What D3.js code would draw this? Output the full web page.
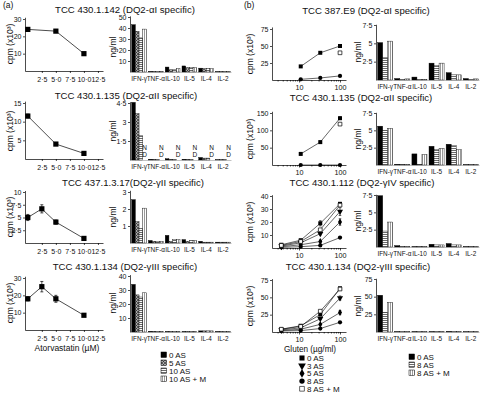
<!DOCTYPE html>
<html>
<head>
<meta charset="utf-8">
<script src="https://cdn.jsdelivr.net/npm/d3@7"></script>
<style>
  body { margin: 0; background: #fff; }
  text { font-family: "Liberation Sans", Arial, sans-serif; fill: #111; }
</style>
</head>
<body>
<svg id="fig" width="482" height="393"></svg>
<script>
// ---------------------------------- DATOS ----------------------------------
const cytokines = ["IFN-γ", "TNF-α", "IL-10", "IL-5", "IL-4", "IL-2"];
const groupsA = ["0 AS", "5 AS", "10 AS", "10 AS + M"];
const groupsB = ["0 AS", "8 AS", "8 AS + M"];
const seriesB = ["0 AS", "3 AS", "5 AS", "8 AS", "8 AS + M"];

// (a) proliferación vs atorvastatina (µM), cpm x10^3
const a1Dose = [0, 5, 10],      a1Cpm = [24, 23, 10],       a1Err = [0.8, 0.8, 0.5];
const a2Dose = [0, 5, 10],      a2Cpm = [11.5, 4, 1.5],     a2Err = [0.5, 0.3, 0.2];
const a3Dose = [0, 2.5, 5, 10], a3Cpm = [5, 6.7, 4.1, 0.9], a3Err = [0.6, 0.8, 0.4, 0.1];
const a4Dose = [0, 2.5, 5, 10], a4Cpm = [18, 25, 18, 8.5],  a4Err = [1.2, 3, 2, 0.5];

// (a) citoquinas ng/ml, por citoquina: [0 AS, 5 AS, 10 AS, 10 AS + M]
const a1Cyt = [[43, 37, 31, 39], [0.5, 0.4, 0.4, 0.4], [4.5, 2, 2, 3], [5.5, 4, 4, 4], [3.5, 3, 3, 3], [0.3, 0.3, 0.3, 0.3]];
const a2Cyt = [[4.55, 3.65, 1.95, null], [0.06, 0.06, 0.06, null], [0.1, 0.05, 0.05, null], [0.06, 0.06, 0.06, null], [0.2, 0.15, 0.15, null], [0.02, 0.02, 0.02, null]];
const a3Cyt = [[2.55, 1.25, 0.85, 2.05], [0.15, 0.1, 0.1, 0.1], [0.45, 0.1, 0.2, 0.2], [0.2, 0.1, 0.15, 0.15], [0.1, 0.05, 0.05, 0.05], [0.05, 0.05, 0.05, 0.05]];
const a4Cyt = [[34, 26.5, 25, 28], [0.5, 0.5, 0.5, 0.5], [0.3, 0.3, 0.3, 0.3], [0.3, 0.3, 0.3, 0.3], [0.8, 0.8, 0.8, 0.8], [0.3, 0.3, 0.3, 0.3]];
const a2NotDone = ["N", "D"];

// (b) proliferación vs gluten (µg/ml), cpm x10^3, series: 0 AS, 3 AS, 5 AS, 8 AS, 8 AS + M
const b12Dose = [11, 33, 100];
const b34Dose = [3.7, 11, 33, 100];
const b1Cpm = [[20, 40, 50], null, null, [1, 3, 6], [null, null, 40]];
const b2Cpm = [[32, 66, 135], null, null, [0, 0, 0], [null, null, 118]];
const b2Err = [[3, 3, 4], null, null, [0, 0, 0], [0, 0, 3]];
const b3Cpm = [[2.5, 6, 19, 34], [1.5, 4, 11, 28], [1, 2.5, 5, 20], [0.5, 1, 2, 8], [2, 5, 14, 33]];
const b3Err = [[0.5, 0.5, 2, 1], [0, 0, 1, 3], [0, 0, 1, 2.5], [0, 0, 0, 0.8], [0, 0, 1, 1]];
const b4Cpm = [[4, 9, 25, 63], [3, 6, 19, 49], [2, 4, 11, 28], [1.5, 2, 5, 14], [4, 8, 30, 62]];
const b4Err = [[0, 0, 0, 0], [0, 0, 1, 3], [0, 0, 1, 3], [0, 0, 0, 0.8], [0, 0, 0, 0]];

// (b) citoquinas ng/ml, por citoquina: [0 AS, 8 AS, 8 AS + M]
const b1Cyt = [[5.1, 3.1, 5.3], [0.2, 0.1, 0.15], [0.4, 0.1, 0.1], [2.3, 2.0, 2.3], [1.0, 0.7, 0.7], [0.2, 0.1, 0.15]];
const b2Cyt = [[5.6, 5.0, 5.3], [0.1, 0.1, 0.1], [1.6, 0.1, 1.5], [2.7, 2.2, 2.4], [3.0, 2.8, 2.2], [0.05, 0.05, 0.05]];
const b3Cyt = [[7.4, 2.3, 3.6], [0.2, 0.05, 0.05], [0.05, 0.05, 0.05], [0.4, 0.3, 0.3], [0.5, 0.3, 0.3], [0.05, 0.05, 0.05]];
const b4Cyt = [[52, 28, 42], [0.5, 0.5, 0.5], [0.5, 0.5, 0.5], [0.5, 0.8, 0.5], [0.8, 0.5, 0.5], [0.3, 0.3, 0.3]];

const titlesA = ["TCC 430.1.142 (DQ2-αI specific)", "TCC 430.1.135 (DQ2-αII specific)", "TCC 437.1.3.17(DQ2-γII specific)", "TCC 430.1.134 (DQ2-γIII specific)"];
const titlesB = ["TCC 387.E9 (DQ2-αI specific)", "TCC 430.1.135 (DQ2-αII specific)", "TCC 430.1.112 (DQ2-γIV specific)", "TCC 430.1.134 (DQ2-γIII specific)"];

const xTicksA = [2.5, 5, 7.5, 10, 12.5];
const xTickLabelsA = ["2·5", "5·0", "7·5", "10·0", "12·5"];

// ---------------------------------- SVG ----------------------------------
const svg = d3.select("#fig");
const dot = d => String(d).replace(".", "·");

// patrones de las barras
const defs = svg.append("defs");
const pCross = defs.append("pattern").attr("id", "cross").attr("patternUnits", "userSpaceOnUse")
    .attr("width", 3).attr("height", 3);
pCross.append("rect").attr("width", 3).attr("height", 3).attr("fill", "#aaa");
pCross.append("path").attr("d", "M0,0L3,3M3,0L0,3").attr("stroke", "#222").attr("stroke-width", 0.6);

const pH = defs.append("pattern").attr("id", "hstripe").attr("patternUnits", "userSpaceOnUse")
    .attr("width", 3).attr("height", 2);
pH.append("rect").attr("width", 3).attr("height", 2).attr("fill", "#fff");
pH.append("line").attr("x1", 0).attr("x2", 3).attr("y1", 0.5).attr("y2", 0.5).attr("stroke", "#444").attr("stroke-width", 0.8);

const pV = defs.append("pattern").attr("id", "vstripe").attr("patternUnits", "userSpaceOnUse")
    .attr("width", 2).attr("height", 3);
pV.append("rect").attr("width", 2).attr("height", 3).attr("fill", "#fff");
pV.append("line").attr("x1", 0.5).attr("x2", 0.5).attr("y1", 0).attr("y2", 3).attr("stroke", "#555").attr("stroke-width", 0.6);

const fillsA = ["#000", "url(#cross)", "url(#hstripe)", "url(#vstripe)"];
const fillsB = ["#000", "url(#hstripe)", "url(#vstripe)"];

// simbolos de las series (b)
const symB = [
    { type: d3.symbolSquare, size: 16, fill: "#000", rot: 0 },
    { type: d3.symbolTriangle, size: 16, fill: "#000", rot: 180 },
    { type: d3.symbolDiamond, size: 14, fill: "#000", rot: 0 },
    { type: d3.symbolCircle, size: 14, fill: "#000", rot: 0 },
    { type: d3.symbolSquare, size: 14, fill: "#fff", rot: 0 }
];

// escala vertical: y0 = pixel del 0, ref = valor de referencia en refPx
function yLin(y0, ref, refPx, vmax) {
    const k = (y0 - refPx) / ref;
    return d3.scaleLinear().domain([0, vmax]).range([y0, y0 - k * vmax]);
}

function styleAxis(g, fs) {
    g.selectAll("path, line").attr("stroke", "#000").attr("stroke-width", 0.7);
    g.selectAll("text").attr("font-size", fs || 7).attr("fill", "#111")
        .style("font-family", '"Liberation Sans", Arial, sans-serif');
}

function yAxis(x, y, ticks, fmt) {
    svg.append("g").attr("transform", `translate(${x},0)`)
        .call(d3.axisLeft(y).tickValues(ticks).tickFormat(fmt).tickSize(2).tickPadding(1.5).tickSizeOuter(0))
        .call(styleAxis);
}

function yLabel(x, yMid, txt) {
    svg.append("text").attr("transform", `translate(${x},${yMid}) rotate(-90)`)
        .attr("text-anchor", "middle").attr("font-size", 8.5).text(txt);
}

function title(x, y, txt) {
    svg.append("text").attr("x", x).attr("y", y).attr("text-anchor", "middle")
        .attr("font-size", 9.6).text(txt);
}

// ---- (a) curva dosis-respuesta ----
const xA = d3.scaleLinear().domain([-0.5, 13.4]).range([25, 103]);

function panelALine(y, ticks, dose, cpm, err) {
    svg.append("g").attr("transform", `translate(0,${y(0)})`)
        .call(d3.axisBottom(xA).tickValues(xTicksA).tickFormat((d, i) => xTickLabelsA[i]).tickSize(2).tickPadding(4).tickSizeOuter(0))
        .call(styleAxis);
    yAxis(25, y, ticks, dot);
    const pts = dose.map((d, i) => ({ x: d, v: cpm[i], e: err[i] }));
    svg.append("path").datum(pts)
        .attr("d", d3.line().x(d => xA(d.x)).y(d => y(d.v)))
        .attr("fill", "none").attr("stroke", "#000").attr("stroke-width", 0.7);
    svg.selectAll(null).data(pts.filter(d => d.e > 0.3)).enter().append("path")
        .attr("d", d => `M${xA(d.x)},${y(d.v - d.e)}V${y(d.v + d.e)}M${xA(d.x) - 1.5},${y(d.v - d.e)}h3M${xA(d.x) - 1.5},${y(d.v + d.e)}h3`)
        .attr("stroke", "#000").attr("stroke-width", 0.7);
    svg.selectAll(null).data(pts).enter().append("rect")
        .attr("x", d => xA(d.x) - 2.6).attr("y", d => y(d.v) - 2.6)
        .attr("width", 5.2).attr("height", 5.2).attr("fill", "#000");
}

// ---- barras de citoquinas ----
function panelBars(x0, x1, y, ticks, values, groups, fills) {
    const xb = d3.scaleBand().domain(cytokines).range([x0, x1]).paddingInner(0.12).paddingOuter(0.04);
    const xi = d3.scaleBand().domain(d3.range(groups.length)).range([0, xb.bandwidth()]).padding(0);
    const g = svg.append("g");
    cytokines.forEach((c, ci) => {
        values[ci].forEach((v, gi) => {
            if (v == null) return;
            g.append("rect")
                .attr("x", xb(c) + xi(gi)).attr("y", y(v))
                .attr("width", xi.bandwidth()).attr("height", y(0) - y(v))
                .attr("fill", fills[gi]).attr("stroke", "#000").attr("stroke-width", 0.4);
        });
    });
    svg.append("g").attr("transform", `translate(0,${y(0)})`)
        .call(d3.axisBottom(xb).tickSize(0).tickPadding(4).tickSizeOuter(0))
        .call(g => styleAxis(g, 6.4))
        .call(a => a.select(".domain").attr("stroke-width", 0.4).attr("stroke", "#666"));
    yAxis(x0 - 1, y, ticks, dot);
    return { xb, xi };
}

// ---- (b) curva vs gluten (escala log) ----
const xB = d3.scaleLog().domain([2.19, 140]).range([272, 346]);
const minorB = [3, 4, 5, 6, 7, 8, 9, 20, 30, 40, 50, 60, 70, 80, 90];

function panelBLine(y, ticks, dose, cpm, err) {
    const ax = svg.append("g").attr("transform", `translate(0,${y(0)})`);
    ax.call(d3.axisBottom(xB).tickValues([10, 100]).tickFormat(d3.format("d")).tickSize(2.5).tickPadding(2.5).tickSizeOuter(0))
        .call(g => styleAxis(g, 7.2));
    ax.append("g").call(d3.axisBottom(xB).tickValues(minorB).tickFormat("").tickSize(1.5).tickSizeOuter(0))
        .call(styleAxis).select(".domain").remove();
    yAxis(272, y, ticks, dot);

    cpm.forEach((s, si) => {
        if (!s) return;
        const pts = dose.map((d, i) => ({ x: d, v: s[i], e: err && err[si] ? err[si][i] : 0 })).filter(d => d.v != null);
        if (pts.length > 1) {
            svg.append("path").datum(pts)
                .attr("d", d3.line().x(d => xB(d.x)).y(d => y(d.v)))
                .attr("fill", "none").attr("stroke", "#000").attr("stroke-width", 0.6);
        }
        svg.selectAll(null).data(pts.filter(d => d.e > 0)).enter().append("path")
            .attr("d", d => `M${xB(d.x)},${y(Math.max(0, d.v - d.e))}V${y(d.v + d.e)}M${xB(d.x) - 1.3},${y(Math.max(0, d.v - d.e))}h2.6M${xB(d.x) - 1.3},${y(d.v + d.e)}h2.6`)
            .attr("stroke", "#000").attr("stroke-width", 0.6);
        const sb = symB[si];
        svg.selectAll(null).data(pts).enter().append("path")
            .attr("transform", d => `translate(${xB(d.x)},${y(d.v)}) rotate(${sb.rot})`)
            .attr("d", d3.symbol().type(sb.type).size(sb.size))
            .attr("fill", sb.fill).attr("stroke", "#000").attr("stroke-width", si === 4 ? 0.7 : 0);
    });
}

// ---------------------------------- PANEL (a) ----------------------------------
svg.append("text").attr("x", 3).attr("y", 8).attr("font-size", 8.5).text("(a)");
svg.append("text").attr("x", 244).attr("y", 8).attr("font-size", 8.5).text("(b)");

const titleYA = [12.5, 99, 186, 270];
const titleYB = [13.5, 101, 186, 270];
titlesA.forEach((t, i) => title([125, 126, 133, 125][i], titleYA[i], t));
titlesB.forEach((t, i) => title([366, 361, 362, 358][i], titleYB[i], t));

// fila 1
const ya1 = yLin(71, 30, 19, 31);
panelALine(ya1, [10, 20, 30], a1Dose, a1Cpm, a1Err);
yLabel(13, 44, "cpm (x10³)");
const yr1 = yLin(72, 50, 17, 51);
panelBars(131, 231, yr1, [10, 20, 30, 40, 50], a1Cyt, groupsA, fillsA);
yLabel(116, 47, "ng/ml");

// fila 2
const ya2 = yLin(159, 15, 103, 15.5);
panelALine(ya2, [5, 10, 15], a2Dose, a2Cpm, a2Err);
yLabel(13, 131, "cpm (x10³)");
const yr2 = yLin(160, 4.5, 103, 4.6);
const bars2 = panelBars(131, 231, yr2, [1.5, 3, 4.5], a2Cyt, groupsA, fillsA);
yLabel(116, 131, "ng/ml");
cytokines.forEach(c => {
    const cx = bars2.xb(c) + bars2.xi(3) + bars2.xi.bandwidth() / 2;
    a2NotDone.forEach((ch, k) => {
        svg.append("text").attr("x", cx).attr("y", 150 + k * 7).attr("text-anchor", "middle")
            .attr("font-size", 6.5).text(ch);
    });
});

// fila 3
const ya3 = yLin(243, 10, 192, 10.3);
panelALine(ya3, [2.5, 5, 7.5, 10], a3Dose, a3Cpm, a3Err);
yLabel(13, 217, "cpm (x10³)");
const yr3 = yLin(243, 3, 192, 3.1);
panelBars(131, 231, yr3, [1, 2, 3], a3Cyt, groupsA, fillsA);
yLabel(116, 217, "ng/ml");

// fila 4
const ya4 = yLin(330, 30, 278, 31);
panelALine(ya4, [10, 20, 30], a4Dose, a4Cpm, a4Err);
yLabel(13, 303, "cpm (x10³)");
const yr4 = yLin(332, 40, 276, 41);
panelBars(131, 231, yr4, [10, 20, 30, 40], a4Cyt, groupsA, fillsA);
yLabel(116, 303, "ng/ml");
svg.append("text").attr("x", 67).attr("y", 351).attr("text-anchor", "middle").attr("font-size", 8.5)
    .text("Atorvastatin (µM)");

// leyenda (a)
groupsA.forEach((gname, i) => {
    svg.append("rect").attr("x", 161).attr("y", 355 + i * 8 - 3).attr("width", 5.5).attr("height", 5.5)
        .attr("fill", fillsA[i]).attr("stroke", "#000").attr("stroke-width", 0.5);
    svg.append("text").attr("x", 169).attr("y", 355 + i * 8 + 2.8).attr("font-size", 8).text(gname);
});

// ---------------------------------- PANEL (b) ----------------------------------
const yb1 = yLin(80, 75, 29, 78);
panelBLine(yb1, [25, 50, 75], b12Dose, b1Cpm, null);
yLabel(253, 54, "cpm (x10³)");
const ybr1 = yLin(80, 7.5, 25, 7.6);
panelBars(377, 479, ybr1, [2.5, 5, 7.5], b1Cyt, groupsB, fillsB);
yLabel(361, 52, "ng/ml");

const yb2 = yLin(165, 150, 113, 155);
panelBLine(yb2, [50, 100, 150], b12Dose, b2Cpm, b2Err);
yLabel(253, 139, "cpm (x10³)");
const ybr2 = yLin(165, 7.5, 113, 7.6);
panelBars(377, 479, ybr2, [2.5, 5, 7.5], b2Cyt, groupsB, fillsB);
yLabel(361, 139, "ng/ml");

const yb3 = yLin(248, 40, 196, 41);
panelBLine(yb3, [10, 20, 30, 40], b34Dose, b3Cpm, b3Err);
yLabel(253, 222, "cpm (x10³)");
const ybr3 = yLin(247, 7.5, 195, 7.6);
panelBars(377, 479, ybr3, [2.5, 5, 7.5], b3Cyt, groupsB, fillsB);
yLabel(361, 221, "ng/ml");

const yb4 = yLin(332, 75, 280, 77);
panelBLine(yb4, [25, 50, 75], b34Dose, b4Cpm, b4Err);
yLabel(253, 306, "cpm (x10³)");
const ybr4 = yLin(332, 75, 279, 76);
panelBars(377, 479, ybr4, [25, 50, 75], b4Cyt, groupsB, fillsB);
yLabel(361, 306, "ng/ml");
svg.append("text").attr("x", 310).attr("y", 351.5).attr("text-anchor", "middle").attr("font-size", 8.2)
    .text("Gluten (µg/ml)");

// leyendas (b)
seriesB.forEach((sname, i) => {
    const sb = symB[i];
    svg.append("path").attr("transform", `translate(302,${358 + i * 7.7}) rotate(${sb.rot})`)
        .attr("d", d3.symbol().type(sb.type).size(sb.size * 1.6))
        .attr("fill", sb.fill).attr("stroke", "#000").attr("stroke-width", i === 4 ? 0.6 : 0);
    svg.append("text").attr("x", 307).attr("y", 358 + i * 7.7 + 2.8).attr("font-size", 8).text(sname);
});
groupsB.forEach((gname, i) => {
    svg.append("rect").attr("x", 409).attr("y", 357 + i * 8 - 3).attr("width", 5.5).attr("height", 5.5)
        .attr("fill", fillsB[i]).attr("stroke", "#000").attr("stroke-width", 0.5);
    svg.append("text").attr("x", 417).attr("y", 357 + i * 8 + 2.8).attr("font-size", 8).text(gname);
});
</script>
</body>
</html>
